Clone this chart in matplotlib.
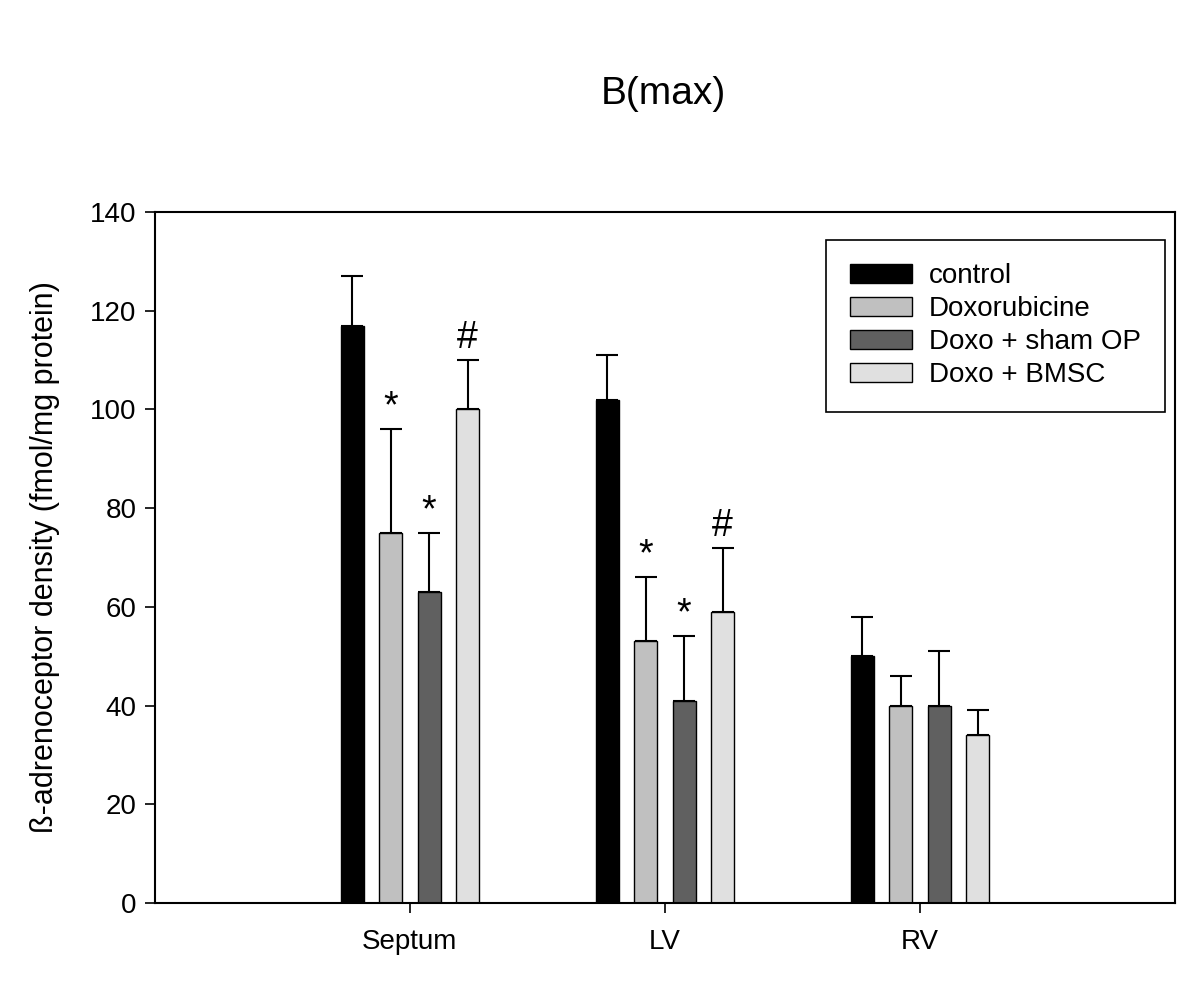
import numpy as np
import matplotlib
matplotlib.use("Agg")
import matplotlib.pyplot as plt

plt.rcParams['font.family'] = ['Liberation Sans', 'DejaVu Sans']

regions = ["Septum", "LV", "RV"]
groups = ["control", "Doxorubicine", "Doxo + sham OP", "Doxo + BMSC"]
colors = ["#000000", "#c0c0c0", "#606060", "#e0e0e0"]

# mean values and upper error (SD) per group, in order Septum, LV, RV
means = [[117, 102, 50],
         [75, 53, 40],
         [63, 41, 40],
         [100, 59, 34]]
errs = [[10, 9, 8],
        [21, 13, 6],
        [12, 13, 11],
        [10, 13, 5]]
marks = [["", "", ""],
         ["*", "*", ""],
         ["*", "*", ""],
         ["#", "#", ""]]

fig = plt.figure(figsize=(12, 9.86), dpi=100)
ax = fig.add_axes([0.129, 0.0842, 0.85, 0.7008])

x = np.arange(1, len(regions) + 1)
w = 0.09
step = 0.151
for i in range(len(groups)):
    xi = x + (i - 1.5) * step
    ax.bar(xi, means[i], w, color=colors[i], edgecolor='black', linewidth=1,
           label=groups[i], zorder=2)
    ax.errorbar(xi, means[i], yerr=[np.zeros(len(regions)), errs[i]], fmt='none',
                ecolor='black', elinewidth=1.5, capsize=8, capthick=1.5, zorder=1)
    for j in range(len(regions)):
        m = marks[i][j]
        if m:
            top = means[i][j] + errs[i][j]
            ax.text(xi[j], top + 0.8, m, ha='center', va='bottom', fontsize=27)

ax.set_xlim(0, 4)
ax.set_ylim(0, 140)
ax.set_xticks(x)
ax.set_xticklabels(regions, fontsize=20)
ax.set_yticks(np.arange(0, 141, 20))
ax.tick_params(axis='y', labelsize=20, direction='out', length=7, width=1.2, pad=6)
ax.tick_params(axis='x', direction='out', length=7, width=1.2, pad=12)
for s in ax.spines.values():
    s.set_linewidth(1.5)
ax.set_ylabel("ß-adrenoceptor density (fmol/mg protein)", fontsize=22, labelpad=22)

fig.text(0.5525, 0.905, "B(max)", ha='center', va='center', fontsize=28)

leg = ax.legend(loc='upper right', bbox_to_anchor=(0.99, 0.96), fontsize=20,
                handlelength=2.25, handleheight=0.7, labelspacing=0.25,
                borderpad=0.85, handletextpad=0.6, fancybox=False, framealpha=1,
                edgecolor='black', borderaxespad=0)
leg.get_frame().set_linewidth(1.2)

fig.savefig("out.png", dpi=100)
